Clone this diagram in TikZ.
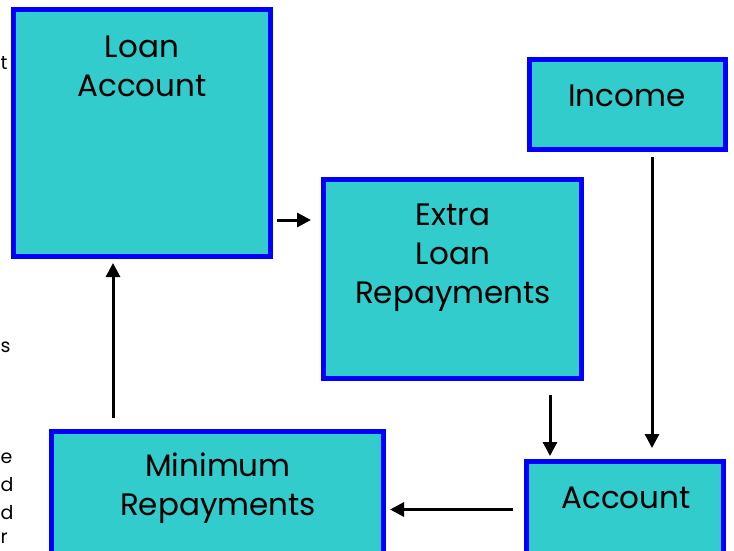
\documentclass[tikz,border=0pt]{standalone}
\usepackage{fontspec}
\setmainfont{Poppins}
\usetikzlibrary{arrows.meta}
\definecolor{boxfill}{RGB}{51,204,204}
\definecolor{boxline}{RGB}{0,0,255}
\tikzset{
  box/.style={draw=boxline, fill=boxfill, line width=5pt, rectangle, inner sep=0pt},
  lbl/.style={font=\fontsize{31}{39}\selectfont, align=center, inner sep=0pt},
  frag/.style={font=\fontsize{19}{22}\selectfont, anchor=base west, inner sep=0pt},
  arr/.style={line width=3pt, -{Triangle[length=14pt,width=14pt]}}
}
\begin{document}
\begin{tikzpicture}[x=1pt,y=-1pt]
\useasboundingbox (0,0) rectangle (734,551);
% text fragments at left edge
\node[frag] (f1) at (0.5,70) {t};
\node[frag] (f2) at (0.5,352) {s};
\node[frag] (f3) at (0.5,463) {e};
\node[frag] (f4) at (0.5,491) {d};
\node[frag] (f5) at (0.5,519) {d};
\node[frag] (f6) at (0.5,543) {r};
% boxes
\node[box, minimum width=257pt, minimum height=247pt] (loan) at (142,133) {};
\node[box, minimum width=258pt, minimum height=199pt] (extra) at (452.5,279) {};
\node[box, minimum width=196pt, minimum height=90pt] (income) at (627.5,104.5) {};
\node[box, minimum width=197pt, minimum height=101pt] (account) at (625,512) {};
\node[box, minimum width=332pt, minimum height=131pt] (minimum) at (217.5,497) {};
% texts
\node[lbl] (loanT) at (142,66) {Loan\\Account};
\node[lbl] (extraT) at (453,258) {Extra\\Loan\\Repayments};
\node[lbl] (incomeT) at (627,95.5) {Income};
\node[lbl] (accountT) at (626,497.5) {Account};
\node[lbl] (minimumT) at (218,488) {Minimum\\Repayments};
% arrows
\draw[arr] ([shift={(4,-39)}]loan.south east) -- ([shift={(-10,43)}]extra.north west);
\draw[arr] ([shift={(64,-11)}]minimum.north west) -- ([shift={(102,4)}]loan.south west);
\draw[arr] ([shift={(24.5,5)}]income.south) -- ([shift={(27,-11)}]account.north);
\draw[arr] ([shift={(-34,14)}]extra.south east) -- ([shift={(26,-3)}]account.north west);
\draw[arr] ([shift={(-11,-2.5)}]account.west) -- ([shift={(4,12.5)}]minimum.east);
\end{tikzpicture}
\end{document}
